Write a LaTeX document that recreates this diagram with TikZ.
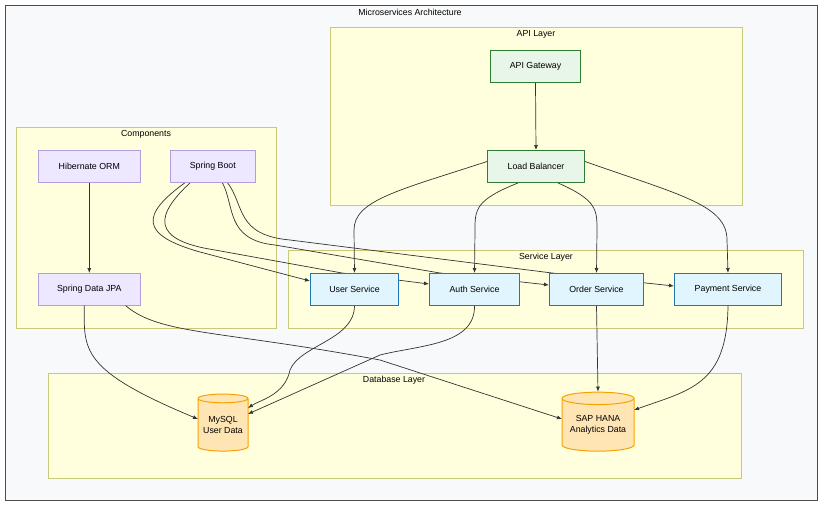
\documentclass[tikz,border=0pt]{standalone}
\usepackage{fontspec}
\setmainfont{Liberation Sans}
\usetikzlibrary{shapes.geometric,arrows.meta}
\definecolor{grpfill}{HTML}{FFFFDE}
\definecolor{grpline}{HTML}{C9C97A}
\definecolor{outfill}{HTML}{F8F9FB}
\definecolor{gfill}{HTML}{E8F5E9}
\definecolor{gline}{HTML}{2E7D32}
\definecolor{pfill}{HTML}{EDE7FF}
\definecolor{pline}{HTML}{B39DDB}
\definecolor{bfill}{HTML}{E1F5FE}
\definecolor{bline}{HTML}{1F78B4}
\definecolor{ofill}{HTML}{FFE5B4}
\definecolor{oline}{HTML}{F5A300}
\definecolor{edge}{HTML}{333333}
\begin{document}
\begin{tikzpicture}[x=1pt,y=-1pt,
  font=\fontsize{8.8}{11}\selectfont,
  grp/.style={draw=grpline,fill=grpfill,line width=0.6pt},
  ttl/.style={inner sep=0pt,anchor=center},
  box/.style={draw,line width=1pt,inner sep=0pt,anchor=north west},
  gbox/.style={box,fill=gfill,draw=gline},
  pbox/.style={box,fill=pfill,draw=pline,line width=0.6pt},
  sbox/.style={box,fill=bfill,draw=bline},
  db/.style={cylinder,shape border rotate=90,draw=oline,fill=ofill,line width=1pt,aspect=0.22,align=center,inner sep=0pt},
  e/.style={draw=edge,line width=0.7pt,-{Latex[length=5pt,width=4pt]}},
  ln/.style={draw=edge,line width=0.7pt}]
\useasboundingbox (0,0) rectangle (828,512);
\draw[fill=outfill,draw=black!70,line width=0.8pt] (5,5) rectangle (817,500);
\node[ttl] (t0) at (410,12) {Microservices Architecture};
\draw[grp] (330,27) rectangle (742,205);
\node[ttl] (t1) at (536,34) {API Layer};
\draw[grp] (16,127) rectangle (276,328);
\node[ttl] (t2) at (146,134) {Components};
\draw[grp] (288,250) rectangle (803,328);
\node[ttl] (t3) at (546,257) {Service Layer};
\draw[grp] (48,373) rectangle (741,478);
\node[ttl] (t4) at (394,380) {Database Layer};

\coordinate (sbA) at (186,182);
\coordinate (sbB) at (191,182);
\coordinate (sbC) at (222,182);
\coordinate (sbD) at (227,182);
\coordinate (usT) at (342,273);
\coordinate (auT) at (440,273);
\coordinate (orT) at (552,273);

\draw[e] (sbA) .. controls (140,215) and (140,235) .. (200,252) -- (310,281);
\draw[ln] (sbB) .. controls (155,215) and (150,240) .. (215,250) -- (usT);
\draw[e] (usT) -- (429,284);
\draw[ln] (sbC) .. controls (235,205) and (225,240) .. (275,245) -- (auT);
\draw[e] (auT) -- (549,285);
\draw[ln] (sbD) .. controls (245,205) and (235,235) .. (290,240) -- (orT);
\draw[e] (orT) -- (674,286);

\node[gbox,minimum width=90pt,minimum height=32pt] (gw) at (490,50) {API Gateway};
\node[gbox,minimum width=97pt,minimum height=32pt] (lb) at (487,150) {Load Balancer};
\node[pbox,minimum width=102pt,minimum height=32pt] (hib) at (38,150) {Hibernate ORM};
\node[pbox,minimum width=85pt,minimum height=32pt] (sb) at (170,150) {Spring Boot};
\node[pbox,minimum width=102pt,minimum height=32pt] (jpa) at (38,273) {Spring Data JPA};
\node[sbox,minimum width=88pt,minimum height=32pt] (us) at (310,273) {User Service};
\node[sbox,minimum width=90pt,minimum height=32pt] (au) at (429,273) {Auth Service};
\node[sbox,minimum width=94pt,minimum height=32pt] (os) at (549,273) {Order Service};
\node[sbox,minimum width=107pt,minimum height=32pt] (ps) at (674,273) {Payment Service};
\node[db,minimum width=50pt,minimum height=57pt] (my) at (223,425) {MySQL\\User Data};
\node[db,minimum width=72pt,minimum height=59pt] (sap) at (598,425) {SAP HANA\\Analytics Data};

\draw[e] (gw.south) -- (lb.north);
\draw[e] (lb.west) ++(0,-5) .. controls (400,190) and (354,200) .. (354,230) -- (us.north);
\draw[e] (lb.south) ++(-18,0) .. controls (475,200) and (475,210) .. (475,230) -- (au.north);
\draw[e] (lb.south) ++(22,0) .. controls (597,200) and (597,210) .. (597,230) -- (os.north);
\draw[e] (lb.east) ++(0,-5) .. controls (680,195) and (727,205) .. (727,240) -- (ps.north);
\draw[e] (hib.south) -- (jpa.north);
\draw[e] (jpa.south) ++(-5,0) .. controls (84,350) and (80,370) .. (198,419);
\draw[e] (jpa.south east) ++(-15,0) .. controls (160,335) and (220,330) .. (380,360) -- (562,419);
\draw[e] (us.south) .. controls (354,340) and (300,345) .. (290,370) .. controls (285,395) and (260,400) .. (248,408);
\draw[e] (au.south) .. controls (475,345) and (420,345) .. (380,355) -- (248,414);
\draw[e] (os.south) -- (sap.north);
\draw[e] (ps.south) .. controls (727,385) and (690,390) .. (634,410);
\end{tikzpicture}
\end{document}
